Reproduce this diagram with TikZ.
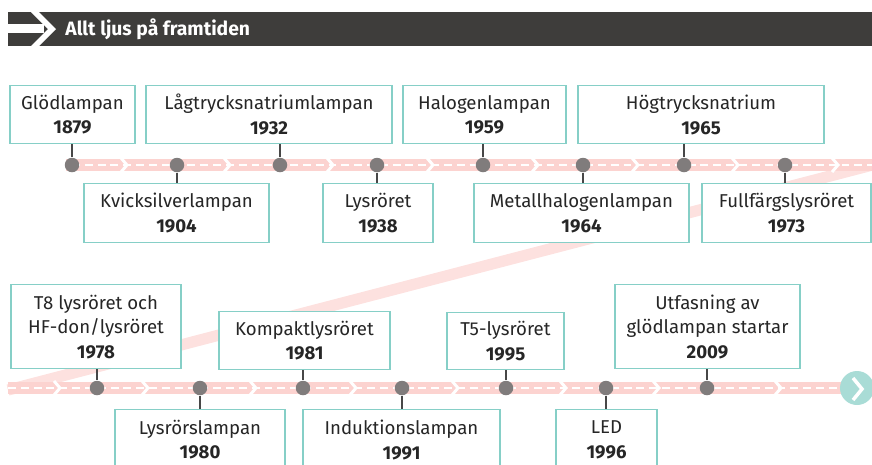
\documentclass[tikz,border=0pt]{standalone}
\usepackage{fontspec}
\setmainfont{Fira Sans}
\usetikzlibrary{positioning}
\definecolor{headbg}{HTML}{3E3D3B}
\definecolor{boxteal}{HTML}{86CFC7}
\definecolor{txt}{HTML}{262626}
\definecolor{bandpink}{HTML}{FCD3D0}
\definecolor{diagpink}{HTML}{FDE1DF}
\definecolor{dotgray}{HTML}{807C7C}
\definecolor{stemgray}{HTML}{474747}
\definecolor{endteal}{HTML}{A9DCD6}
\tikzset{
box/.style = {draw=boxteal, line width=0.8pt, fill=white, rectangle, align=center,
  inner sep=0pt, text=txt, font=\fontsize{10.6}{14}\selectfont, anchor=north},
wd/.style = {minimum width=#1*0.02cm},
ht/.style = {minimum height=#1*0.02cm},
dot/.style = {circle, fill=dotgray, minimum size=0.29cm, inner sep=0pt},
stem/.style = {draw=stemgray, line width=1.5pt},
band/.style = {draw=bandpink, line width=6.8pt},
diag/.style = {draw=diagpink, line width=6.4pt},
midline/.style = {draw=white, line width=1.1pt, dash pattern=on 4.5pt off 2.8pt},
chev/.style = {draw=white, line width=1.7pt},
head/.style = {text=white, font=\bfseries\fontsize{11}{13}\selectfont, anchor=west, inner sep=0pt}
}
\begin{document}
\begin{tikzpicture}[x=0.02cm, y=-0.02cm]
    \useasboundingbox (0,0) rectangle (872,464);
    \clip (0,0) rectangle (872,464);
    % header bar
    \fill[headbg] (8,12) rectangle (872,46);
    \fill[white] (8,24) rectangle (44,33);
    \fill[white] (31,12) -- (39,12) -- (56,29) -- (39,46) -- (31,46) -- (48,29) -- cycle;
    \node [head] (title) at (65,29) {Allt ljus på framtiden};

    % the band, first row, diagonal and second row
    \draw [diag] (880,163) -- (8,390);
    \draw [band] (66,165) -- (872,165);
    \draw [band] (8,388) -- (845,388);
    \draw [midline] (72,165) -- (872,165);
    \draw [midline] (8,388) -- (845,388);
    \foreach \x in {124,227,330,430,535,635,735,835}
        \draw [chev] (\x-3,158) -- (\x+3,165) -- (\x-3,172);
    \foreach \x in {57,145,253,353,455,563,656,778}
        \draw [chev] (\x-3,381) -- (\x+3,388) -- (\x-3,395);
    \node [circle, fill=endteal, minimum size=0.68cm, inner sep=0pt] (fin) at (857,388) {};
    \draw [draw=white, line width=2pt] (853,378) -- (862,389) -- (853,400);

    % dots on the line
    \node [dot] (d1879) at (72,165) {};
    \node [dot] (d1904) at (177,165) {};
    \node [dot] (d1932) at (280,165) {};
    \node [dot] (d1938) at (377,165) {};
    \node [dot] (d1959) at (483,165) {};
    \node [dot] (d1964) at (583,165) {};
    \node [dot] (d1965) at (684,165) {};
    \node [dot] (d1973) at (785,165) {};
    \node [dot] (d1978) at (97,388) {};
    \node [dot] (d1980) at (200,388) {};
    \node [dot] (d1981) at (303,388) {};
    \node [dot] (d1991) at (402,388) {};
    \node [dot] (d1995) at (506,388) {};
    \node [dot] (d1996) at (606,388) {};
    \node [dot] (d2009) at (707,388) {};

    % boxes, first row
    \node [box, wd=125, ht=58] (glod) at (72.5,85) {Glödlampan\\\textbf{1879}};
    \node [box, wd=185, ht=59] (kvick) at (176.5,183) {Kvicksilverlampan\\\textbf{1904}};
    \node [box, wd=246, ht=58] (lagtryck) at (269,85) {Lågtrycksnatriumlampan\\\textbf{1932}};
    \node [box, wd=110, ht=59] (lysror) at (378,183) {Lysröret\\\textbf{1938}};
    \node [box, wd=163, ht=58] (halogen) at (484.5,85) {Halogenlampan\\\textbf{1959}};
    \node [box, wd=215, ht=59] (metall) at (581.5,183) {Metallhalogenlampan\\\textbf{1964}};
    \node [box, wd=246, ht=58] (hogtryck) at (701,85) {Högtrycksnatrium\\\textbf{1965}};
    \node [box, wd=169, ht=59] (fullfarg) at (786.5,183) {Fullfärgslysröret\\\textbf{1973}};

    % boxes, second row
    \node [box, wd=170, ht=84] (t8) at (96,284) {T8 lysröret och\\HF-don/lysröret\\\textbf{1978}};
    \node [box, wd=170, ht=60] (lysrorsl) at (200,409) {Lysrörslampan\\\textbf{1980}};
    \node [box, wd=171, ht=58] (kompakt) at (304.5,311) {Kompaktlysröret\\\textbf{1981}};
    \node [box, wd=197, ht=60] (induktion) at (401.5,409) {Induktionslampan\\\textbf{1991}};
    \node [box, wd=117, ht=57] (t5) at (505.5,312) {T5-lysröret\\\textbf{1995}};
    \node [box, wd=101, ht=60] (led) at (606.5,409) {LED\\\textbf{1996}};
    \node [box, wd=185, ht=84] (utfas) at (707.5,284) {Utfasning av\\glödlampan startar\\\textbf{2009}};

    % stems
    \draw [stem] (d1879 |- glod.south) -- (d1879);
    \draw [stem] (d1904) -- (d1904 |- kvick.north);
    \draw [stem] (d1932 |- lagtryck.south) -- (d1932);
    \draw [stem] (d1938) -- (d1938 |- lysror.north);
    \draw [stem] (d1959 |- halogen.south) -- (d1959);
    \draw [stem] (d1964) -- (d1964 |- metall.north);
    \draw [stem] (d1965 |- hogtryck.south) -- (d1965);
    \draw [stem] (d1973) -- (d1973 |- fullfarg.north);
    \draw [stem] (d1978 |- t8.south) -- (d1978);
    \draw [stem] (d1980) -- (d1980 |- lysrorsl.north);
    \draw [stem] (d1981 |- kompakt.south) -- (d1981);
    \draw [stem] (d1991) -- (d1991 |- induktion.north);
    \draw [stem] (d1995 |- t5.south) -- (d1995);
    \draw [stem] (d1996) -- (d1996 |- led.north);
    \draw [stem] (d2009 |- utfas.south) -- (d2009);
\end{tikzpicture}
\end{document}
